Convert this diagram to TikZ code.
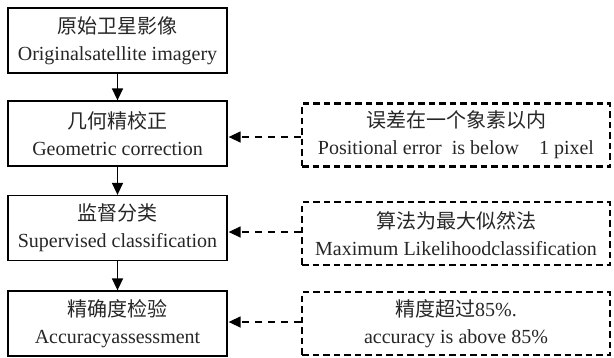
\documentclass[tikz,border=0pt]{standalone}
\usepackage{fontspec}
\setmainfont{Liberation Serif}
\newfontfamily\cjk{Noto Sans CJK SC}
\usetikzlibrary{arrows.meta}
\tikzset{
  stepbox/.style={draw, line width=1.3pt, minimum width=219pt, minimum height=65pt,
    inner sep=0pt, align=center, font=\fontsize{20}{27}\selectfont, text=black!85},
  notebox/.style={draw, line width=2.3pt, dash pattern=on 6.5pt off 4pt,
    minimum width=308pt, minimum height=63pt,
    inner sep=0pt, align=center, font=\fontsize{20}{27}\selectfont, text=black!85},
  flow/.style={line width=1.4pt, -{Triangle[length=12pt,width=11pt]}},
  back/.style={line width=1.4pt, dash pattern=on 7pt off 6pt,
    -{Triangle[length=12pt,width=11pt]}, shorten >=1pt}
}
\begin{document}
\begin{tikzpicture}[x=1pt,y=1pt]
\useasboundingbox (0,0) rectangle (614,-357);

% processing chain
\node[stepbox] (b1) at (117.5,-40.5) {{\cjk 原始卫星影像}\\Originalsatellite imagery};
\node[stepbox] (b2) at (117.5,-133.5) {{\cjk 几何精校正}\\Geometric correction};
\node[stepbox] (b3) at (117.5,-228) {{\cjk 监督分类}\\Supervised classification};
\node[stepbox] (b4) at (117.5,-323.5) {{\cjk 精确度检验}\\Accuracyassessment};

% notes on each step
\node[notebox] (r1) at (456,-135) {{\cjk 误差在一个象素以内}\\Positional error\ \ is below\ \ \ \ 1 pixel};
\node[notebox] (r2) at (456,-233.5) {{\cjk 算法为最大似然法}\\Maximum Likelihoodclassification};
\node[notebox] (r3) at (456,-323.5) {{\cjk 精度超过}85\%.\\accuracy is above\ 85\%};

\draw[flow] (b1) -- (b2);
\draw[flow] (b2) -- (b3);
\draw[flow] (b3) -- (b4);

\draw[back] ([yshift=-2pt]r1.west) -- ([yshift=-2pt]r1.west -| b2.east);
\draw[back] ([yshift=1.5pt]r2.west) -- ([yshift=1.5pt]r2.west -| b3.east);
\draw[back] ([yshift=1.5pt]r3.west) -- ([yshift=1.5pt]r3.west -| b4.east);
\end{tikzpicture}
\end{document}
